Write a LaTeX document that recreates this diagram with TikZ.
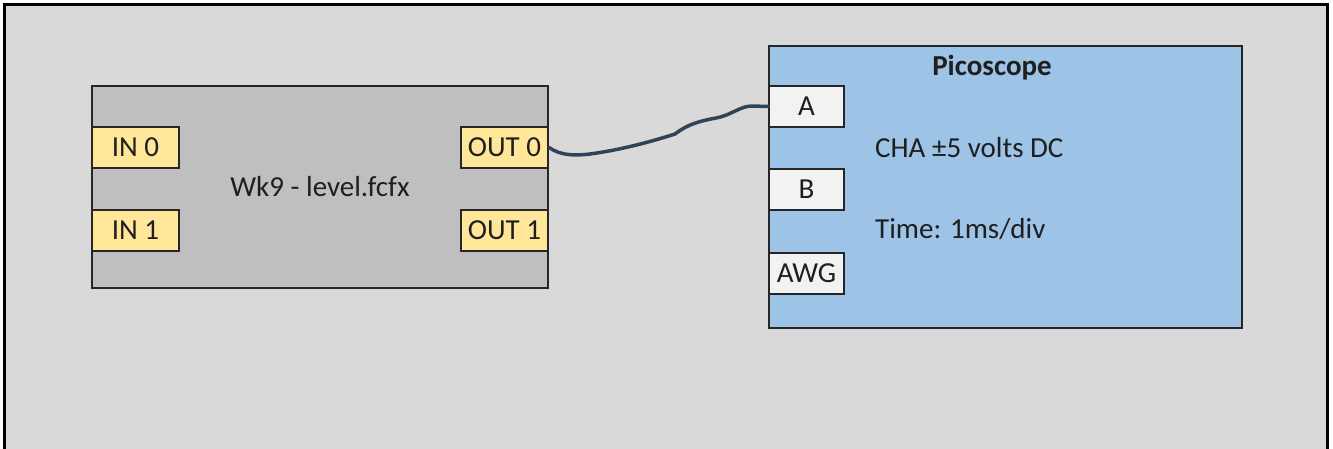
\documentclass[tikz,border=0pt]{standalone}
\usepackage{fontspec}
\setmainfont{Carlito}
\usetikzlibrary{positioning}
\definecolor{bgcol}{HTML}{D9D9D9}
\definecolor{flowgray}{HTML}{BFBFBF}
\definecolor{portyel}{HTML}{FFE699}
\definecolor{scopeblue}{HTML}{9DC3E6}
\definecolor{chanfill}{HTML}{F2F2F2}
\definecolor{wirecol}{HTML}{2E4458}
\tikzset{
  every node/.style={font=\fontsize{29}{34}\selectfont, text=black!88},
  blk/.style={
    draw=black!85, line width=2pt, fill=#1,
    anchor=north west, inner sep=0pt
  },
  port/.style={
    draw=black!85, line width=2pt, fill=#1,
    minimum height=41pt, inner sep=0pt
  },
  wire/.style={line width=3.5pt, draw=wirecol, line cap=round}
}

\begin{document}
\begin{tikzpicture}[x=1pt, y=-1pt]

\useasboundingbox (0,0) rectangle (1333,448);
\draw[line width=3pt, fill=bgcol] (4,4) rectangle (1327,470);

% flowcode block
\node[blk=flowgray, minimum width=456pt, minimum height=202pt] (wk9) at (91,85)
  {Wk9 - level.fcfx};

\node[port=portyel, minimum width=87pt, below right=41pt and 0pt of wk9.north west] (in0) {IN 0};
\node[port=portyel, minimum width=87pt, below=40pt of in0] (in1) {IN 1};
\node[port=portyel, minimum width=87pt, below left=41pt and 0pt of wk9.north east] (out0) {OUT 0};
\node[port=portyel, minimum width=87pt, below=40pt of out0] (out1) {OUT 1};

% scope block
\node[blk=scopeblue, minimum width=473pt, minimum height=282pt] (pico) at (768,45) {};
\node (title) at (992,68) {\bfseries Picoscope};

\node[port=chanfill, minimum width=75pt, below right=40pt and 0pt of pico.north west] (cha) {A};
\node[port=chanfill, minimum width=75pt, below=40pt of cha] (chb) {B};
\node[port=chanfill, minimum width=75pt, below=41pt of chb] (awg) {AWG};

\node[anchor=west, inner sep=0pt] (range) at (875,148) {CHA ±5 volts DC};
\node[anchor=west, inner sep=0pt] (tbase) at (875,229) {Time: 1ms/div};

% probe lead
\draw[wire] (out0.east) .. controls (560,155) and (572,156) .. (590,154)
  .. controls (620,150) and (650,142) .. (675,134)
  .. controls (688,124) and (700,121) .. (716,118)
  .. controls (732,115) and (740,106) .. (752,106) -- (cha.west);

\end{tikzpicture}
\end{document}
